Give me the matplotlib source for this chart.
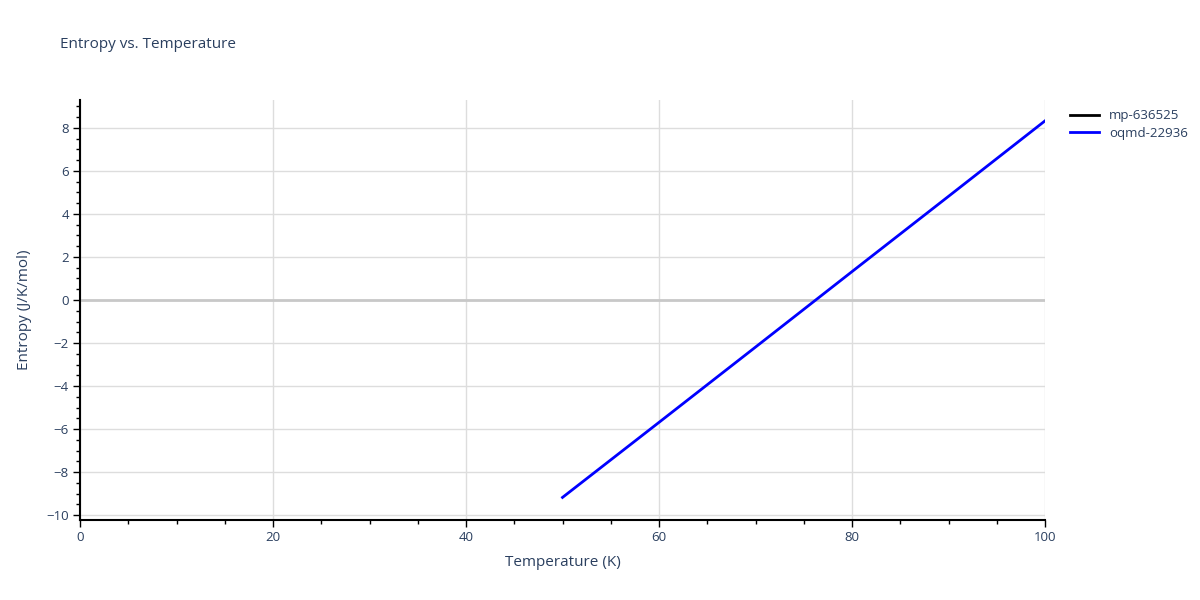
import matplotlib
matplotlib.use('Agg')
import matplotlib.pyplot as plt
from matplotlib.ticker import MultipleLocator

plt.rcParams['font.family'] = ['Open Sans', 'DejaVu Sans']

# data
temps_mp = []
entropy_mp = []
temps_oqmd = [50, 60, 70, 80, 90, 100]
entropy_oqmd = [-9.18, -5.69, -2.19, 1.32, 4.82, 8.33]

TXT = '#2a3f5f'
GRID = '#dddddd'

fig = plt.figure(figsize=(12, 6), dpi=100)
ax = fig.add_axes([80/1200, 1 - 520/600, 965/1200, 420/600])

ax.plot(temps_mp, entropy_mp, color='black', lw=2, label='mp-636525')
ax.plot(temps_oqmd, entropy_oqmd, color='blue', lw=2, label='oqmd-22936')

ax.set_xlim(0, 100)
ax.set_ylim(-10.23, 9.3)
ax.xaxis.set_major_locator(MultipleLocator(20))
ax.xaxis.set_minor_locator(MultipleLocator(5))
ax.yaxis.set_major_locator(MultipleLocator(2))
ax.yaxis.set_minor_locator(MultipleLocator(0.5))

ax.grid(True, which='major', color=GRID, lw=1)
ax.axhline(0, color='#c8c8c8', lw=2, zorder=1)
ax.set_axisbelow(True)

for s in ['top', 'right']:
    ax.spines[s].set_visible(False)
for s in ['left', 'bottom']:
    ax.spines[s].set_color('black')
    ax.spines[s].set_linewidth(1.5)

ax.tick_params(which='major', length=5, width=1, color='black', labelsize=9.5, labelcolor=TXT, pad=3)
ax.tick_params(which='minor', length=3, width=1, color='black')

ax.set_xlabel('Temperature (K)', fontsize=11, color=TXT, labelpad=8)
ax.set_ylabel('Entropy (J/K/mol)', fontsize=11, color=TXT, labelpad=10)

fig.text(60/1200, 1 - 45/600, 'Entropy vs. Temperature', fontsize=11, color=TXT, va='center')

leg = ax.legend(loc='upper left', bbox_to_anchor=(1.02, 0.99), frameon=False,
                fontsize=9.5, handlelength=2.2, labelspacing=0.35, borderaxespad=0)
for t in leg.get_texts():
    t.set_color(TXT)

fig.savefig('out.png', dpi=100)
